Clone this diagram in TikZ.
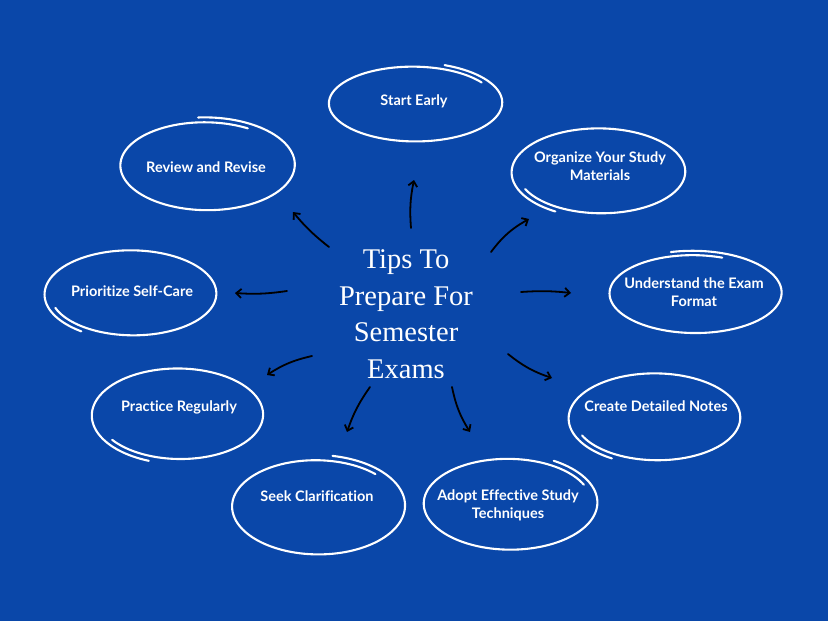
\documentclass[tikz,border=0pt]{standalone}
\usepackage{fontspec}
\setmainfont{Liberation Serif}
\newfontfamily\labfont[RawFeature=-liga]{Lato}
\usetikzlibrary{arrows.meta}
\definecolor{bgblue}{HTML}{0A47A9}
\tikzset{
  handline/.style={draw=white, line width=2.1pt, line cap=round, line join=round},
  lab/.style={text=white, font=\labfont\bfseries\fontsize{14.5}{18}\selectfont, align=center, inner sep=0pt},
  title/.style={text=white, font=\fontsize{28.5}{36.5}\selectfont, align=center, inner sep=0pt},
  arr/.style={draw=black, line width=1.8pt, line cap=round, -{Straight Barb[length=5pt,width=9pt,line width=1.8pt]}}
}
% #1 cx, #2 cy, #3 rx, #4 ry, #5 start angle
\newcommand\handell[5]{%
  \draw[handline] plot[domain=#5:#5+395, samples=140, smooth, variable=\t]
    ({#1+#3*(1.04-0.08*(\t-#5)/395)*cos(\t)}, {#2+#4*(1.06-0.12*(\t-#5)/395)*sin(\t)});}
\begin{document}
\begin{tikzpicture}[x=1pt,y=-1pt]
\path[fill=bgblue, use as bounding box] (0,0) rectangle (828,621);

% hand-drawn ellipses
\handell{414}{103}{86}{38}{290}
\handell{206}{165}{87}{45}{265}
\handell{600}{172}{86}{43}{120}
\handell{132}{294}{85}{43}{125}
\handell{694}{293}{86}{40}{255}
\handell{179}{415}{85}{46}{110}
\handell{656}{418}{85}{44}{120}
\handell{317}{506}{86}{48}{280}
\handell{509}{503}{86}{46}{300}

% labels
\node[lab] (start) at (414,101) {Start Early};
\node[lab] (review) at (206,167) {Review and Revise};
\node[lab] (organize) at (600,166) {Organize Your Study\\Materials};
\node[lab] (prior) at (132,291) {Prioritize Self-Care};
\node[lab] (under) at (694,292) {Understand the Exam\\Format};
\node[lab] (practice) at (179,407) {Practice Regularly};
\node[lab] (create) at (656,406) {Create Detailed Notes};
\node[lab] (seek) at (317,496) {Seek Clarification};
\node[lab] (adopt) at (508,505) {Adopt Effective Study\\Techniques};

% title
\node[title] (center) at (406,314) {Tips To\\Prepare For\\Semester\\Exams};

% arrow endpoints
\coordinate (a1s) at (411,228); \coordinate (a1e) at (414,180);
\coordinate (a2s) at (329,247); \coordinate (a2e) at (293,212);
\coordinate (a3s) at (491,252); \coordinate (a3e) at (529,219);
\coordinate (a4s) at (521,292); \coordinate (a4e) at (571,293);
\coordinate (a5s) at (287,291); \coordinate (a5e) at (235,293);
\coordinate (a6s) at (312,356); \coordinate (a6e) at (267,375);
\coordinate (a7s) at (370,387); \coordinate (a7e) at (347,432);
\coordinate (a8s) at (452,387); \coordinate (a8e) at (470,432);
\coordinate (a9s) at (508,354); \coordinate (a9e) at (552,378);

\draw[arr] (a1s) to[bend left=8] (a1e);
\draw[arr] (a2s) to[bend left=6] (a2e);
\draw[arr] (a3s) to[bend left=12] (a3e);
\draw[arr] (a4s) to[bend left=5] (a4e);
\draw[arr] (a5s) to[bend left=6] (a5e);
\draw[arr] (a6s) to[bend left=-10] (a6e);
\draw[arr] (a7s) to[bend left=-8] (a7e);
\draw[arr] (a8s) to[bend left=-10] (a8e);
\draw[arr] (a9s) to[bend left=-10] (a9e);
\end{tikzpicture}
\end{document}
